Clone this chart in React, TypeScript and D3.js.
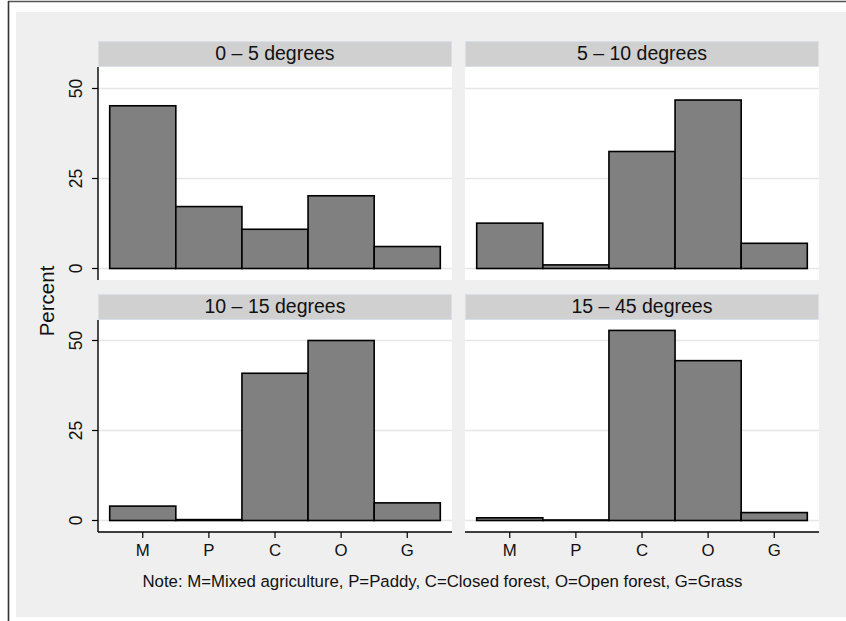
import React, { useRef, useEffect } from "react";
import * as d3 from "d3";

const categories = ["M", "P", "C", "O", "G"];
const panelTitles = ["0 – 5 degrees", "5 – 10 degrees", "10 – 15 degrees", "15 – 45 degrees"];
const slope0to5 = [45.2, 17.2, 10.9, 20.2, 6.1];
const slope5to10 = [12.6, 1.0, 32.5, 46.8, 7.0];
const slope10to15 = [4.0, 0.25, 40.9, 50.0, 4.9];
const slope15to45 = [0.75, 0.15, 52.8, 44.4, 2.2];
const yTicks = [0, 25, 50];
const yTitle = "Percent";
const noteText = "Note: M=Mixed agriculture, P=Paddy, C=Closed forest, O=Open forest, G=Grass";

const W = 846;
const H = 621;
const FONT = "'Liberation Sans', Arial, Helvetica, sans-serif";

export default function App() {
    const ref = useRef<SVGSVGElement>(null);

    useEffect(() => {
        const svg = d3.select(ref.current);
        svg.selectAll("*").remove();

        const series = [slope0to5, slope5to10, slope10to15, slope15to45];

        // panel layout
        const colX = [98, 465];
        const panelW = 354;
        const stripTop = [41, 294];
        const stripH = 26;
        const plotBottom = [280, 532];

        // background + frame
        svg.append("rect").attr("width", W).attr("height", H).attr("fill", "#fff");
        svg.append("rect")
            .attr("x", 16).attr("y", 12)
            .attr("width", W - 16).attr("height", 605)
            .attr("fill", "#efefef");
        svg.append("line")
            .attr("x1", 8).attr("x2", W).attr("y1", 1.5).attr("y2", 1.5)
            .attr("stroke", "#555").attr("stroke-width", 1.6);
        svg.append("line")
            .attr("x1", 8.5).attr("x2", 8.5).attr("y1", 1).attr("y2", H)
            .attr("stroke", "#333").attr("stroke-width", 1.6);

        series.forEach((vals, i) => {
            const col = i % 2;
            const row = Math.floor(i / 2);
            const x0 = colX[col];
            const top = stripTop[row];
            const pTop = top + stripH;
            const pBot = plotBottom[row];
            const zeroY = pBot - 11.5;

            const x = d3.scaleBand()
                .domain(categories)
                .range([x0 + 11.7, x0 + panelW - 11.7])
                .padding(0);
            const y = d3.scaleLinear().domain([0, 50]).range([zeroY, zeroY - 180]);

            const g = svg.append("g");

            // strip
            g.append("rect")
                .attr("x", x0 + 0.5).attr("y", top + 0.5)
                .attr("width", panelW - 1).attr("height", stripH - 1)
                .attr("fill", "#d0d0d0").attr("stroke", "#d9e0ea").attr("stroke-width", 1);
            g.append("text")
                .attr("x", x0 + panelW / 2).attr("y", top + 19)
                .attr("text-anchor", "middle")
                .attr("font-family", FONT).attr("font-size", 19.5)
                .attr("fill", "#111")
                .text(panelTitles[i]);

            // plot region
            g.append("rect")
                .attr("x", x0).attr("y", pTop)
                .attr("width", panelW).attr("height", pBot - pTop)
                .attr("fill", "#fff");

            // gridlines
            g.selectAll(".grid").data(yTicks).enter().append("line")
                .attr("x1", x0).attr("x2", x0 + panelW)
                .attr("y1", (d) => y(d)).attr("y2", (d) => y(d))
                .attr("stroke", "#e6e6e6").attr("stroke-width", 1.5);

            // bars
            g.selectAll(".bar").data(vals).enter().append("rect")
                .attr("x", (d, j) => x(categories[j]) as number)
                .attr("y", (d) => y(d))
                .attr("width", x.bandwidth())
                .attr("height", (d) => zeroY - y(d))
                .attr("fill", "#808080")
                .attr("stroke", "#000").attr("stroke-width", 1.6);

            // y axis on left column
            if (col === 0) {
                g.append("line")
                    .attr("x1", x0).attr("x2", x0)
                    .attr("y1", pTop).attr("y2", pBot)
                    .attr("stroke", "#000").attr("stroke-width", 1.4);
                yTicks.forEach((t) => {
                    g.append("line")
                        .attr("x1", x0 - 6).attr("x2", x0)
                        .attr("y1", y(t)).attr("y2", y(t))
                        .attr("stroke", "#000").attr("stroke-width", 1.2);
                    g.append("text")
                        .attr("transform", `translate(${x0 - 16},${y(t)}) rotate(-90)`)
                        .attr("text-anchor", "middle")
                        .attr("font-family", FONT).attr("font-size", 17.5)
                        .attr("fill", "#111")
                        .text(t);
                });
            }

            // x axis on bottom row
            if (row === 1) {
                g.append("line")
                    .attr("x1", x0).attr("x2", x0 + panelW)
                    .attr("y1", pBot).attr("y2", pBot)
                    .attr("stroke", "#000").attr("stroke-width", 1.4);
                categories.forEach((c) => {
                    const cx = (x(c) as number) + x.bandwidth() / 2;
                    g.append("line")
                        .attr("x1", cx).attr("x2", cx)
                        .attr("y1", pBot).attr("y2", pBot + 6)
                        .attr("stroke", "#000").attr("stroke-width", 1.2);
                    g.append("text")
                        .attr("x", cx).attr("y", pBot + 23.5)
                        .attr("text-anchor", "middle")
                        .attr("font-family", FONT).attr("font-size", 16.8)
                        .attr("fill", "#111")
                        .text(c);
                });
            }
        });

        // y title
        svg.append("text")
            .attr("transform", "translate(53.5,301) rotate(-90)")
            .attr("text-anchor", "middle")
            .attr("font-family", FONT).attr("font-size", 20.5)
            .attr("fill", "#111")
            .text(yTitle);

        // note
        svg.append("text")
            .attr("x", 142.5).attr("y", 587)
            .attr("font-family", FONT).attr("font-size", 16.8)
            .attr("fill", "#111")
            .text(noteText);
    }, []);

    return (
        <svg
            ref={ref}
            width={W}
            height={H}
            style={{ position: "absolute", left: 0, top: 0 }}
        ></svg>
    );
}
